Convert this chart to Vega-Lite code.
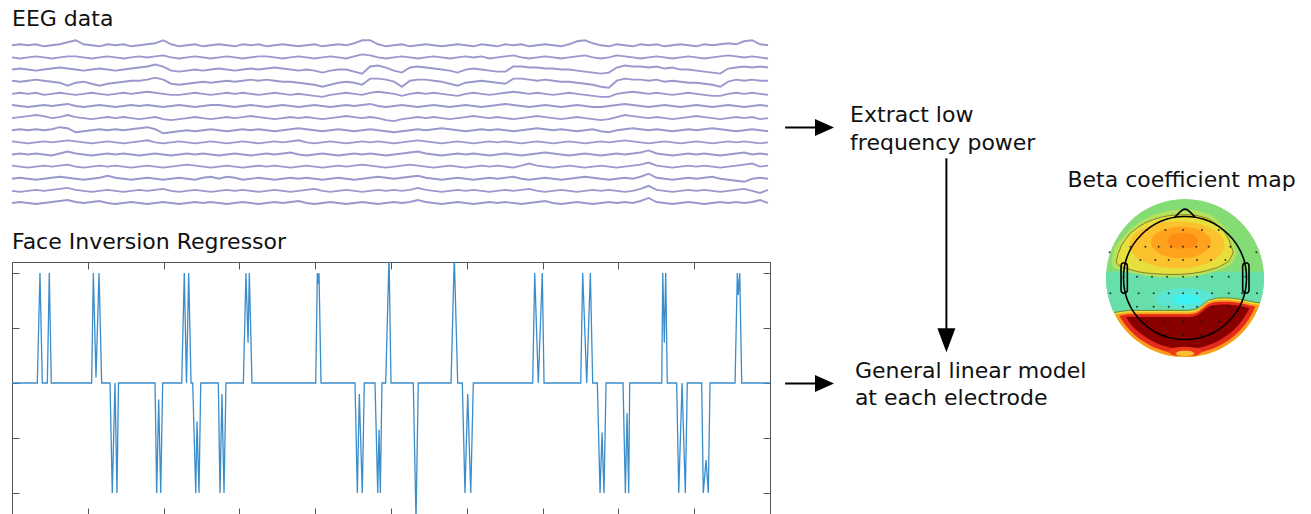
{
"$schema": "https://vega.github.io/schema/vega-lite/v6.json",
"background": "white",
"padding": {"left": 8, "top": 0, "right": 0, "bottom": 0},
"spacing": 0,
"config": {"view": {"stroke": null}, "font": "DejaVu Sans", "text": {"font": "DejaVu Sans"}},
"datasets": {
"eeg": [
{"t":0,"a":156,"b":144,"c":132,"d":121,"e":108,"f":97,"g":84,"h":72,"i":61,"j":48,"k":37,"l":24,"m":12,"n":0},
{"t":1,"a":157,"b":143,"c":133,"d":120,"e":109,"f":96,"g":85,"h":73,"i":60,"j":49,"k":36,"l":25,"m":11,"n":1},
{"t":2,"a":156,"b":144,"c":132,"d":121,"e":108,"f":95,"g":86,"h":72,"i":59,"j":48,"k":35,"l":24,"m":12,"n":0},
{"t":3,"a":157,"b":145,"c":131,"d":122,"e":109,"f":96,"g":87,"h":73,"i":60,"j":49,"k":36,"l":23,"m":13,"n":-1},
{"t":4,"a":155,"b":144,"c":132,"d":121,"e":107,"f":97,"g":86,"h":72,"i":61,"j":48,"k":37,"l":24,"m":12,"n":0},
{"t":5,"a":156,"b":143,"c":133,"d":120,"e":108,"f":96,"g":84,"h":73,"i":60,"j":47,"k":36,"l":25,"m":13,"n":1},
{"t":6,"a":157,"b":144,"c":134,"d":119,"e":109,"f":97,"g":85,"h":75,"i":61,"j":49,"k":37,"l":26,"m":14,"n":2},
{"t":7,"a":159,"b":145,"c":133,"d":116,"e":108,"f":98,"g":87,"h":74,"i":62,"j":51,"k":38,"l":25,"m":15,"n":3},
{"t":8,"a":161,"b":145,"c":132,"d":119,"e":107,"f":96,"g":85,"h":70,"i":61,"j":49,"k":36,"l":24,"m":13,"n":1},
{"t":9,"a":157,"b":144,"c":131,"d":120,"e":108,"f":95,"g":84,"h":71,"i":60,"j":48,"k":35,"l":23,"m":12,"n":0},
{"t":10,"a":156,"b":143,"c":132,"d":118,"e":109,"f":96,"g":83,"h":72,"i":59,"j":47,"k":36,"l":24,"m":11,"n":1},
{"t":11,"a":155,"b":144,"c":133,"d":116,"e":108,"f":97,"g":84,"h":73,"i":60,"j":48,"k":37,"l":25,"m":12,"n":2},
{"t":12,"a":157,"b":145,"c":132,"d":118,"e":107,"f":96,"g":85,"h":72,"i":61,"j":49,"k":36,"l":27,"m":13,"n":0},
{"t":13,"a":156,"b":144,"c":131,"d":119,"e":108,"f":95,"g":84,"h":73,"i":60,"j":48,"k":37,"l":25,"m":12,"n":-1},
{"t":14,"a":157,"b":143,"c":132,"d":120,"e":109,"f":96,"g":85,"h":72,"i":59,"j":49,"k":36,"l":24,"m":11,"n":0},
{"t":15,"a":155,"b":144,"c":133,"d":121,"e":108,"f":97,"g":84,"h":73,"i":60,"j":48,"k":35,"l":23,"m":12,"n":1},
{"t":16,"a":156,"b":145,"c":134,"d":121,"e":109,"f":96,"g":83,"h":74,"i":61,"j":47,"k":36,"l":24,"m":13,"n":0},
{"t":17,"a":157,"b":144,"c":135,"d":122,"e":110,"f":97,"g":84,"h":75,"i":62,"j":48,"k":37,"l":25,"m":12,"n":-1},
{"t":18,"a":158,"b":145,"c":137,"d":124,"e":109,"f":96,"g":85,"h":73,"i":60,"j":49,"k":36,"l":24,"m":13,"n":0},
{"t":19,"a":161,"b":146,"c":135,"d":122,"e":108,"f":95,"g":83,"h":69,"i":59,"j":48,"k":35,"l":23,"m":14,"n":1},
{"t":20,"a":157,"b":144,"c":131,"d":118,"e":107,"f":96,"g":82,"h":70,"i":60,"j":47,"k":36,"l":24,"m":12,"n":0},
{"t":21,"a":155,"b":143,"c":130,"d":117,"e":107,"f":97,"g":83,"h":71,"i":61,"j":48,"k":37,"l":25,"m":11,"n":-1},
{"t":22,"a":156,"b":144,"c":131,"d":118,"e":108,"f":96,"g":84,"h":72,"i":60,"j":49,"k":38,"l":24,"m":12,"n":0},
{"t":23,"a":157,"b":145,"c":132,"d":119,"e":109,"f":95,"g":85,"h":71,"i":59,"j":48,"k":37,"l":23,"m":13,"n":1},
{"t":24,"a":155,"b":144,"c":131,"d":120,"e":108,"f":96,"g":84,"h":72,"i":60,"j":49,"k":36,"l":25,"m":12,"n":0},
{"t":25,"a":156,"b":143,"c":132,"d":119,"e":107,"f":97,"g":83,"h":73,"i":61,"j":48,"k":35,"l":26,"m":11,"n":1},
{"t":26,"a":157,"b":144,"c":133,"d":120,"e":108,"f":97,"g":84,"h":72,"i":60,"j":47,"k":36,"l":24,"m":12,"n":0},
{"t":27,"a":156,"b":145,"c":132,"d":121,"e":109,"f":96,"g":85,"h":71,"i":59,"j":48,"k":37,"l":26,"m":13,"n":-1},
{"t":28,"a":155,"b":144,"c":131,"d":120,"e":108,"f":95,"g":84,"h":72,"i":60,"j":49,"k":36,"l":25,"m":12,"n":0},
{"t":29,"a":157,"b":143,"c":132,"d":121,"e":109,"f":96,"g":85,"h":73,"i":61,"j":48,"k":35,"l":23,"m":13,"n":1},
{"t":30,"a":156,"b":144,"c":133,"d":122,"e":108,"f":97,"g":86,"h":72,"i":60,"j":47,"k":36,"l":24,"m":12,"n":0},
{"t":31,"a":157,"b":145,"c":132,"d":121,"e":107,"f":96,"g":85,"h":73,"i":59,"j":48,"k":37,"l":25,"m":11,"n":-1},
{"t":32,"a":155,"b":145,"c":133,"d":122,"e":108,"f":95,"g":84,"h":72,"i":60,"j":49,"k":36,"l":24,"m":12,"n":0},
{"t":33,"a":156,"b":144,"c":134,"d":121,"e":109,"f":96,"g":83,"h":71,"i":61,"j":48,"k":37,"l":23,"m":13,"n":1},
{"t":34,"a":157,"b":143,"c":133,"d":120,"e":108,"f":97,"g":84,"h":72,"i":60,"j":49,"k":36,"l":24,"m":12,"n":0},
{"t":35,"a":156,"b":144,"c":132,"d":120,"e":107,"f":96,"g":85,"h":73,"i":61,"j":50,"k":35,"l":25,"m":11,"n":1},
{"t":36,"a":155,"b":145,"c":131,"d":119,"e":108,"f":95,"g":84,"h":74,"i":62,"j":48,"k":36,"l":24,"m":12,"n":2},
{"t":37,"a":156,"b":144,"c":132,"d":118,"e":107,"f":96,"g":85,"h":73,"i":60,"j":47,"k":37,"l":25,"m":13,"n":0},
{"t":38,"a":157,"b":143,"c":131,"d":117,"e":106,"f":97,"g":84,"h":72,"i":59,"j":48,"k":36,"l":24,"m":14,"n":-1},
{"t":39,"a":155,"b":144,"c":129,"d":115,"e":105,"f":96,"g":83,"h":71,"i":60,"j":49,"k":35,"l":23,"m":12,"n":0},
{"t":40,"a":156,"b":145,"c":131,"d":117,"e":107,"f":95,"g":84,"h":72,"i":61,"j":48,"k":36,"l":24,"m":11,"n":1},
{"t":41,"a":157,"b":144,"c":132,"d":119,"e":108,"f":96,"g":85,"h":73,"i":60,"j":47,"k":37,"l":25,"m":12,"n":0},
{"t":42,"a":156,"b":143,"c":132,"d":120,"e":109,"f":97,"g":86,"h":72,"i":59,"j":48,"k":36,"l":24,"m":13,"n":-1},
{"t":43,"a":158,"b":145,"c":130,"d":119,"e":108,"f":96,"g":85,"h":71,"i":60,"j":49,"k":37,"l":23,"m":12,"n":0},
{"t":44,"a":161,"b":147,"c":128,"d":117,"e":107,"f":97,"g":84,"h":72,"i":61,"j":48,"k":38,"l":24,"m":11,"n":1},
{"t":45,"a":161,"b":146,"c":135,"d":123,"e":109,"f":98,"g":85,"h":73,"i":60,"j":49,"k":37,"l":25,"m":12,"n":0},
{"t":46,"a":157,"b":144,"c":136,"d":123,"e":110,"f":96,"g":84,"h":72,"i":61,"j":48,"k":36,"l":26,"m":13,"n":-1},
{"t":47,"a":155,"b":143,"c":134,"d":122,"e":109,"f":95,"g":82,"h":71,"i":60,"j":47,"k":35,"l":25,"m":12,"n":0},
{"t":48,"a":156,"b":144,"c":131,"d":120,"e":108,"f":96,"g":81,"h":70,"i":59,"j":48,"k":36,"l":24,"m":13,"n":1},
{"t":49,"a":157,"b":145,"c":129,"d":115,"e":106,"f":97,"g":83,"h":71,"i":60,"j":49,"k":37,"l":25,"m":12,"n":0},
{"t":50,"a":155,"b":144,"c":134,"d":121,"e":108,"f":96,"g":84,"h":72,"i":61,"j":50,"k":38,"l":26,"m":13,"n":1},
{"t":51,"a":156,"b":143,"c":135,"d":122,"e":109,"f":95,"g":85,"h":73,"i":62,"j":51,"k":37,"l":27,"m":15,"n":3},
{"t":52,"a":157,"b":144,"c":134,"d":122,"e":108,"f":96,"g":84,"h":72,"i":61,"j":49,"k":36,"l":25,"m":13,"n":1},
{"t":53,"a":156,"b":145,"c":133,"d":121,"e":109,"f":97,"g":85,"h":73,"i":60,"j":48,"k":35,"l":24,"m":12,"n":0},
{"t":54,"a":155,"b":144,"c":132,"d":120,"e":108,"f":96,"g":84,"h":74,"i":59,"j":47,"k":36,"l":23,"m":11,"n":-1},
{"t":55,"a":156,"b":143,"c":131,"d":118,"e":107,"f":95,"g":83,"h":73,"i":60,"j":48,"k":37,"l":24,"m":12,"n":0},
{"t":56,"a":157,"b":144,"c":129,"d":116,"e":106,"f":96,"g":84,"h":72,"i":61,"j":49,"k":36,"l":25,"m":13,"n":1},
{"t":57,"a":156,"b":145,"c":132,"d":119,"e":108,"f":97,"g":85,"h":71,"i":60,"j":48,"k":35,"l":24,"m":12,"n":0},
{"t":58,"a":155,"b":144,"c":133,"d":120,"e":109,"f":96,"g":86,"h":72,"i":59,"j":49,"k":36,"l":23,"m":13,"n":-1},
{"t":59,"a":157,"b":145,"c":132,"d":121,"e":108,"f":95,"g":85,"h":73,"i":60,"j":48,"k":37,"l":24,"m":12,"n":0},
{"t":60,"a":156,"b":143,"c":131,"d":120,"e":107,"f":96,"g":84,"h":72,"i":61,"j":47,"k":36,"l":25,"m":11,"n":1},
{"t":61,"a":155,"b":144,"c":130,"d":119,"e":108,"f":97,"g":85,"h":73,"i":60,"j":48,"k":37,"l":24,"m":12,"n":0},
{"t":62,"a":157,"b":145,"c":130,"d":118,"e":109,"f":98,"g":84,"h":72,"i":61,"j":49,"k":36,"l":25,"m":13,"n":1},
{"t":63,"a":156,"b":146,"c":135,"d":123,"e":110,"f":97,"g":83,"h":71,"i":60,"j":48,"k":35,"l":26,"m":12,"n":0},
{"t":64,"a":157,"b":144,"c":135,"d":123,"e":109,"f":96,"g":84,"h":72,"i":59,"j":47,"k":37,"l":24,"m":13,"n":-1},
{"t":65,"a":155,"b":143,"c":134,"d":122,"e":108,"f":95,"g":85,"h":73,"i":60,"j":48,"k":39,"l":23,"m":14,"n":0},
{"t":66,"a":156,"b":144,"c":134,"d":121,"e":109,"f":96,"g":86,"h":74,"i":61,"j":49,"k":37,"l":24,"m":12,"n":1},
{"t":67,"a":157,"b":145,"c":133,"d":122,"e":108,"f":97,"g":85,"h":73,"i":60,"j":50,"k":36,"l":25,"m":11,"n":2},
{"t":68,"a":156,"b":144,"c":133,"d":121,"e":107,"f":96,"g":84,"h":72,"i":59,"j":49,"k":35,"l":24,"m":12,"n":0},
{"t":69,"a":155,"b":143,"c":132,"d":120,"e":108,"f":95,"g":83,"h":73,"i":60,"j":48,"k":36,"l":23,"m":13,"n":-1},
{"t":70,"a":157,"b":144,"c":132,"d":120,"e":109,"f":96,"g":84,"h":72,"i":61,"j":47,"k":37,"l":24,"m":12,"n":0},
{"t":71,"a":160,"b":145,"c":131,"d":119,"e":108,"f":97,"g":85,"h":71,"i":60,"j":48,"k":36,"l":25,"m":11,"n":1},
{"t":72,"a":161,"b":146,"c":130,"d":118,"e":107,"f":96,"g":84,"h":72,"i":59,"j":49,"k":35,"l":26,"m":12,"n":0},
{"t":73,"a":158,"b":144,"c":129,"d":117,"e":106,"f":95,"g":83,"h":73,"i":60,"j":48,"k":36,"l":25,"m":13,"n":-1},
{"t":74,"a":156,"b":143,"c":128,"d":115,"e":105,"f":95,"g":82,"h":71,"i":61,"j":47,"k":37,"l":24,"m":12,"n":0},
{"t":75,"a":155,"b":144,"c":129,"d":114,"e":105,"f":96,"g":83,"h":70,"i":60,"j":48,"k":36,"l":23,"m":13,"n":1},
{"t":76,"a":157,"b":146,"c":134,"d":121,"e":108,"f":97,"g":85,"h":72,"i":61,"j":49,"k":35,"l":24,"m":12,"n":0},
{"t":77,"a":156,"b":145,"c":136,"d":123,"e":109,"f":98,"g":87,"h":73,"i":62,"j":48,"k":36,"l":25,"m":11,"n":1},
{"t":78,"a":155,"b":144,"c":135,"d":122,"e":110,"f":97,"g":86,"h":74,"i":61,"j":49,"k":37,"l":24,"m":12,"n":0},
{"t":79,"a":157,"b":143,"c":135,"d":122,"e":109,"f":96,"g":85,"h":73,"i":60,"j":50,"k":38,"l":26,"m":14,"n":2},
{"t":80,"a":156,"b":144,"c":134,"d":121,"e":108,"f":95,"g":84,"h":72,"i":59,"j":52,"k":40,"l":29,"m":17,"n":5},
{"t":81,"a":157,"b":145,"c":135,"d":122,"e":109,"f":96,"g":85,"h":73,"i":60,"j":49,"k":37,"l":25,"m":13,"n":1},
{"t":82,"a":155,"b":144,"c":133,"d":120,"e":108,"f":97,"g":84,"h":72,"i":61,"j":48,"k":36,"l":24,"m":12,"n":0},
{"t":83,"a":156,"b":143,"c":134,"d":121,"e":107,"f":96,"g":83,"h":71,"i":60,"j":47,"k":35,"l":23,"m":11,"n":-1},
{"t":84,"a":157,"b":144,"c":132,"d":120,"e":108,"f":95,"g":84,"h":72,"i":59,"j":48,"k":36,"l":24,"m":12,"n":0},
{"t":85,"a":156,"b":145,"c":132,"d":119,"e":109,"f":96,"g":85,"h":73,"i":60,"j":49,"k":37,"l":25,"m":13,"n":1},
{"t":86,"a":155,"b":144,"c":131,"d":119,"e":108,"f":97,"g":86,"h":72,"i":61,"j":48,"k":36,"l":24,"m":12,"n":0},
{"t":87,"a":157,"b":143,"c":130,"d":118,"e":107,"f":96,"g":85,"h":73,"i":60,"j":49,"k":37,"l":25,"m":13,"n":-1},
{"t":88,"a":156,"b":144,"c":129,"d":117,"e":106,"f":95,"g":84,"h":74,"i":59,"j":48,"k":36,"l":26,"m":12,"n":0},
{"t":89,"a":157,"b":145,"c":128,"d":115,"e":106,"f":96,"g":83,"h":73,"i":60,"j":47,"k":35,"l":24,"m":11,"n":1},
{"t":90,"a":158,"b":146,"c":133,"d":120,"e":108,"f":97,"g":84,"h":72,"i":61,"j":48,"k":36,"l":23,"m":12,"n":0},
{"t":91,"a":157,"b":145,"c":134,"d":122,"e":109,"f":96,"g":85,"h":71,"i":60,"j":49,"k":37,"l":22,"m":13,"n":1},
{"t":92,"a":160,"b":144,"c":135,"d":121,"e":108,"f":95,"g":84,"h":72,"i":61,"j":50,"k":38,"l":21,"m":14,"n":0},
{"t":93,"a":161,"b":145,"c":134,"d":122,"e":109,"f":96,"g":85,"h":73,"i":60,"j":48,"k":39,"l":24,"m":12,"n":1},
{"t":94,"a":157,"b":144,"c":135,"d":121,"e":108,"f":97,"g":83,"h":72,"i":59,"j":49,"k":36,"l":25,"m":10,"n":3},
{"t":95,"a":156,"b":143,"c":134,"d":121,"e":107,"f":96,"g":84,"h":71,"i":60,"j":48,"k":37,"l":24,"m":13,"n":0}
],
"reg": [
{"t":0,"v":0},
{"t":33.4,"v":0},{"t":36.9,"v":2},{"t":40.0,"v":0},{"t":46.6,"v":0},{"t":49.2,"v":2},{"t":51.8,"v":0},
{"t":105.1,"v":0},{"t":107.3,"v":2},{"t":110.8,"v":0.1},{"t":114.8,"v":2},{"t":118.3,"v":0},
{"t":129.3,"v":0},{"t":132.3,"v":-2},{"t":135.9,"v":0},{"t":138.5,"v":-2},{"t":140.5,"v":0},
{"t":188.7,"v":0},{"t":190.9,"v":-2},{"t":193.5,"v":-0.3},{"t":196.2,"v":-2},{"t":198.8,"v":0},
{"t":223.9,"v":0},{"t":227.3,"v":2},{"t":230.2,"v":0},{"t":233.1,"v":2},{"t":236.2,"v":0},
{"t":238.4,"v":0},{"t":242.4,"v":-2},{"t":244.1,"v":-0.7},{"t":246.7,"v":-2},{"t":249.0,"v":0},
{"t":272.2,"v":0},{"t":274.4,"v":-2},{"t":277.0,"v":-0.2},{"t":279.7,"v":-2},{"t":282.3,"v":0},
{"t":305.2,"v":0},{"t":308.7,"v":2},{"t":311.4,"v":0.73},{"t":313.1,"v":2},{"t":316.6,"v":0},
{"t":400.7,"v":0},{"t":402.8,"v":2},{"t":404.0,"v":1.8},{"t":405.0,"v":2},{"t":407.7,"v":0},
{"t":452.5,"v":0},{"t":455.6,"v":-2},{"t":458.2,"v":-0.2},{"t":462.1,"v":-2},{"t":464.8,"v":0},
{"t":478.9,"v":0},{"t":482.5,"v":-2},{"t":484.2,"v":-0.85},{"t":485.9,"v":-2},{"t":488.1,"v":0},
{"t":493.0,"v":0},{"t":497.4,"v":2.3},{"t":500.0,"v":0},
{"t":529.4,"v":0},{"t":533.0,"v":-2.5},{"t":536.0,"v":0},
{"t":579.2,"v":0},{"t":583.5,"v":2.3},{"t":588.0,"v":0},
{"t":594.1,"v":0},{"t":597.6,"v":-2},{"t":601.2,"v":-0.2},{"t":605.2,"v":-2},{"t":608.6,"v":0},
{"t":686.9,"v":0},{"t":689.6,"v":2},{"t":694.3,"v":0},{"t":699.6,"v":2},{"t":701.9,"v":0},
{"t":750.3,"v":0},{"t":752.9,"v":2},{"t":758.2,"v":0},{"t":763.0,"v":2},{"t":766.1,"v":0},
{"t":772.2,"v":0},{"t":775.8,"v":-2},{"t":778.4,"v":-0.9},{"t":781.0,"v":-2},{"t":783.7,"v":0},
{"t":806.1,"v":0},{"t":809.2,"v":-2},{"t":811.4,"v":-0.55},{"t":813.6,"v":-2},{"t":814.9,"v":0},
{"t":857.2,"v":0},{"t":858.5,"v":2},{"t":860.6,"v":0.73},{"t":862.4,"v":2},{"t":864.5,"v":0},
{"t":876.9,"v":0},{"t":879.6,"v":-2},{"t":884.0,"v":0},{"t":888.3,"v":-2},{"t":890.9,"v":0},
{"t":909.9,"v":0},{"t":912.0,"v":-2},{"t":915.6,"v":-1.4},{"t":918.6,"v":-2},{"t":920.9,"v":0},
{"t":953.9,"v":0},{"t":956.9,"v":2},{"t":958.2,"v":1.6},{"t":960.1,"v":2},{"t":962.7,"v":0},
{"t":1000,"v":0}
],
"flowText": [
{"label":"Extract low","fx":0.244,"fy":0.238},
{"label":"frequency power","fx":0.244,"fy":0.292},
{"label":"General linear model","fx":0.259,"fy":0.736},
{"label":"at each electrode","fx":0.259,"fy":0.788}
],
"flowArrow": [
{"fx":0.041,"fx2":0.166,"fy":0.248,"fy2":0.248},
{"fx":0.041,"fx2":0.166,"fy":0.746,"fy2":0.746},
{"fx":0.545,"fx2":0.545,"fy":0.308,"fy2":0.662}
],
"flowHead": [
{"fx":0.164,"fy":0.248,"dir":"right"},
{"fx":0.164,"fy":0.746,"dir":"right"},
{"fx":0.545,"fy":0.662,"dir":"down"}
],
"topo": [
{"r":"band","x":-1,"lo":0,"hi":0},{"r":"band","x":-0.997,"lo":-0.077,"hi":0.077},{"r":"band","x":-0.99,"lo":-0.141,"hi":0.08},{"r":"band","x":-0.97,"lo":-0.243,"hi":0.08},{"r":"band","x":-0.94,"lo":-0.341,"hi":0.08},{"r":"band","x":-0.907,"lo":-0.42,"hi":0.08},{"r":"band","x":0,"lo":-0.42,"hi":0.08},{"r":"band","x":0.907,"lo":-0.42,"hi":0.08},{"r":"band","x":0.94,"lo":-0.341,"hi":0.08},{"r":"band","x":0.97,"lo":-0.243,"hi":0.08},{"r":"band","x":0.99,"lo":-0.141,"hi":0.08},{"r":"band","x":0.997,"lo":-0.077,"hi":0.077},{"r":"band","x":1,"lo":0,"hi":0},
{"r":"halo","x":-0.93,"lo":0.21,"hi":0.21},{"r":"halo","x":-0.9,"lo":0.13,"hi":0.36},{"r":"halo","x":-0.85,"lo":0.11,"hi":0.45},{"r":"halo","x":-0.8,"lo":0.09,"hi":0.5},{"r":"halo","x":-0.7,"lo":0.07,"hi":0.61},{"r":"halo","x":-0.6,"lo":0.05,"hi":0.69},{"r":"halo","x":-0.5,"lo":0.03,"hi":0.75},{"r":"halo","x":-0.4,"lo":0.02,"hi":0.8},{"r":"halo","x":-0.3,"lo":0.01,"hi":0.83},{"r":"halo","x":-0.2,"lo":0.005,"hi":0.85},{"r":"halo","x":-0.1,"lo":0.005,"hi":0.86},{"r":"halo","x":0,"lo":0.01,"hi":0.86},{"r":"halo","x":0.1,"lo":0.02,"hi":0.86},{"r":"halo","x":0.2,"lo":0.035,"hi":0.84},{"r":"halo","x":0.3,"lo":0.06,"hi":0.81},{"r":"halo","x":0.4,"lo":0.09,"hi":0.74},{"r":"halo","x":0.5,"lo":0.13,"hi":0.64},{"r":"halo","x":0.6,"lo":0.2,"hi":0.48},{"r":"halo","x":0.66,"lo":0.32,"hi":0.32},
{"r":"y1","x":-0.87,"lo":0.2,"hi":0.2},{"r":"y1","x":-0.85,"lo":0.17,"hi":0.3},{"r":"y1","x":-0.8,"lo":0.14,"hi":0.42},{"r":"y1","x":-0.7,"lo":0.11,"hi":0.56},{"r":"y1","x":-0.6,"lo":0.08,"hi":0.64},{"r":"y1","x":-0.5,"lo":0.065,"hi":0.7},{"r":"y1","x":-0.4,"lo":0.055,"hi":0.74},{"r":"y1","x":-0.3,"lo":0.05,"hi":0.77},{"r":"y1","x":-0.2,"lo":0.045,"hi":0.79},{"r":"y1","x":-0.1,"lo":0.045,"hi":0.8},{"r":"y1","x":0,"lo":0.05,"hi":0.8},{"r":"y1","x":0.1,"lo":0.06,"hi":0.8},{"r":"y1","x":0.2,"lo":0.075,"hi":0.78},{"r":"y1","x":0.3,"lo":0.1,"hi":0.75},{"r":"y1","x":0.4,"lo":0.13,"hi":0.68},{"r":"y1","x":0.5,"lo":0.18,"hi":0.58},{"r":"y1","x":0.55,"lo":0.21,"hi":0.5},{"r":"y1","x":0.6,"lo":0.3,"hi":0.36},{"r":"y1","x":0.61,"lo":0.33,"hi":0.33},
{"r":"y2","x":-0.7,"lo":0.42,"hi":0.42},{"r":"y2","x":-0.682,"lo":0.347,"hi":0.493},{"r":"y2","x":-0.64,"lo":0.289,"hi":0.551},{"r":"y2","x":-0.55,"lo":0.222,"hi":0.618},{"r":"y2","x":-0.4,"lo":0.16,"hi":0.68},{"r":"y2","x":-0.25,"lo":0.13,"hi":0.71},{"r":"y2","x":-0.1,"lo":0.12,"hi":0.72},{"r":"y2","x":0.05,"lo":0.13,"hi":0.71},{"r":"y2","x":0.2,"lo":0.16,"hi":0.68},{"r":"y2","x":0.35,"lo":0.222,"hi":0.618},{"r":"y2","x":0.44,"lo":0.289,"hi":0.551},{"r":"y2","x":0.482,"lo":0.347,"hi":0.493},{"r":"y2","x":0.5,"lo":0.42,"hi":0.42},
{"r":"y3","x":-0.43,"lo":0.45,"hi":0.45},{"r":"y3","x":-0.419,"lo":0.401,"hi":0.499},{"r":"y3","x":-0.392,"lo":0.363,"hi":0.537},{"r":"y3","x":-0.335,"lo":0.318,"hi":0.582},{"r":"y3","x":-0.24,"lo":0.277,"hi":0.623},{"r":"y3","x":-0.145,"lo":0.256,"hi":0.644},{"r":"y3","x":-0.05,"lo":0.25,"hi":0.65},{"r":"y3","x":0.045,"lo":0.256,"hi":0.644},{"r":"y3","x":0.14,"lo":0.277,"hi":0.623},{"r":"y3","x":0.235,"lo":0.318,"hi":0.582},{"r":"y3","x":0.292,"lo":0.363,"hi":0.537},{"r":"y3","x":0.319,"lo":0.401,"hi":0.499},{"r":"y3","x":0.33,"lo":0.45,"hi":0.45},
{"r":"y4","x":-0.23,"lo":0.47,"hi":0.47},{"r":"y4","x":-0.18,"lo":0.404,"hi":0.536},{"r":"y4","x":-0.13,"lo":0.383,"hi":0.557},{"r":"y4","x":-0.03,"lo":0.37,"hi":0.57},{"r":"y4","x":0.07,"lo":0.383,"hi":0.557},{"r":"y4","x":0.12,"lo":0.404,"hi":0.536},{"r":"y4","x":0.17,"lo":0.47,"hi":0.47},
{"r":"c1","x":-0.38,"lo":-0.26,"hi":-0.26},{"r":"c1","x":-0.342,"lo":-0.317,"hi":-0.203},{"r":"c1","x":-0.285,"lo":-0.346,"hi":-0.174},{"r":"c1","x":-0.19,"lo":-0.373,"hi":-0.147},{"r":"c1","x":-0.095,"lo":-0.386,"hi":-0.134},{"r":"c1","x":0,"lo":-0.39,"hi":-0.13},{"r":"c1","x":0.095,"lo":-0.386,"hi":-0.134},{"r":"c1","x":0.19,"lo":-0.373,"hi":-0.147},{"r":"c1","x":0.285,"lo":-0.346,"hi":-0.174},{"r":"c1","x":0.342,"lo":-0.317,"hi":-0.203},{"r":"c1","x":0.38,"lo":-0.26,"hi":-0.26},
{"r":"c2","x":-0.16,"lo":-0.27,"hi":-0.27},{"r":"c2","x":-0.142,"lo":-0.298,"hi":-0.242},{"r":"c2","x":-0.115,"lo":-0.313,"hi":-0.227},{"r":"c2","x":-0.07,"lo":-0.326,"hi":-0.214},{"r":"c2","x":-0.025,"lo":-0.333,"hi":-0.207},{"r":"c2","x":0.02,"lo":-0.335,"hi":-0.205},{"r":"c2","x":0.065,"lo":-0.333,"hi":-0.207},{"r":"c2","x":0.11,"lo":-0.326,"hi":-0.214},{"r":"c2","x":0.155,"lo":-0.313,"hi":-0.227},{"r":"c2","x":0.182,"lo":-0.298,"hi":-0.242},{"r":"c2","x":0.2,"lo":-0.27,"hi":-0.27},
{"r":"r1","x":-0.9,"lo":-0.436,"hi":-0.436},{"r":"r1","x":-0.85,"lo":-0.527,"hi":-0.43},{"r":"r1","x":-0.8,"lo":-0.6,"hi":-0.42},{"r":"r1","x":-0.7,"lo":-0.714,"hi":-0.41},{"r":"r1","x":-0.5,"lo":-0.866,"hi":-0.41},{"r":"r1","x":-0.3,"lo":-0.954,"hi":-0.41},{"r":"r1","x":-0.1,"lo":-0.995,"hi":-0.41},{"r":"r1","x":0.05,"lo":-0.999,"hi":-0.41},{"r":"r1","x":0.15,"lo":-0.989,"hi":-0.39},{"r":"r1","x":0.22,"lo":-0.976,"hi":-0.34},{"r":"r1","x":0.3,"lo":-0.954,"hi":-0.28},{"r":"r1","x":0.4,"lo":-0.917,"hi":-0.255},{"r":"r1","x":0.5,"lo":-0.866,"hi":-0.25},{"r":"r1","x":0.6,"lo":-0.8,"hi":-0.255},{"r":"r1","x":0.7,"lo":-0.714,"hi":-0.27},{"r":"r1","x":0.8,"lo":-0.6,"hi":-0.29},{"r":"r1","x":0.9,"lo":-0.436,"hi":-0.31},{"r":"r1","x":0.95,"lo":-0.312,"hi":-0.312},
{"r":"r2","x":-0.885,"lo":-0.46,"hi":-0.46},{"r":"r2","x":-0.85,"lo":-0.527,"hi":-0.455},{"r":"r2","x":-0.8,"lo":-0.6,"hi":-0.445},{"r":"r2","x":-0.7,"lo":-0.714,"hi":-0.435},{"r":"r2","x":-0.5,"lo":-0.866,"hi":-0.435},{"r":"r2","x":-0.3,"lo":-0.954,"hi":-0.435},{"r":"r2","x":-0.1,"lo":-0.995,"hi":-0.435},{"r":"r2","x":0.05,"lo":-0.999,"hi":-0.435},{"r":"r2","x":0.15,"lo":-0.989,"hi":-0.415},{"r":"r2","x":0.22,"lo":-0.976,"hi":-0.365},{"r":"r2","x":0.3,"lo":-0.954,"hi":-0.305},{"r":"r2","x":0.4,"lo":-0.917,"hi":-0.28},{"r":"r2","x":0.5,"lo":-0.866,"hi":-0.275},{"r":"r2","x":0.6,"lo":-0.8,"hi":-0.28},{"r":"r2","x":0.7,"lo":-0.714,"hi":-0.295},{"r":"r2","x":0.8,"lo":-0.6,"hi":-0.315},{"r":"r2","x":0.9,"lo":-0.436,"hi":-0.335},{"r":"r2","x":0.941,"lo":-0.338,"hi":-0.338},
{"r":"r3","x":-0.833,"lo":-0.477,"hi":-0.477},{"r":"r3","x":-0.8,"lo":-0.531,"hi":-0.47},{"r":"r3","x":-0.7,"lo":-0.657,"hi":-0.46},{"r":"r3","x":-0.5,"lo":-0.82,"hi":-0.46},{"r":"r3","x":-0.3,"lo":-0.912,"hi":-0.46},{"r":"r3","x":-0.1,"lo":-0.955,"hi":-0.46},{"r":"r3","x":0.05,"lo":-0.959,"hi":-0.46},{"r":"r3","x":0.15,"lo":-0.948,"hi":-0.44},{"r":"r3","x":0.22,"lo":-0.935,"hi":-0.39},{"r":"r3","x":0.3,"lo":-0.912,"hi":-0.33},{"r":"r3","x":0.4,"lo":-0.873,"hi":-0.305},{"r":"r3","x":0.5,"lo":-0.82,"hi":-0.3},{"r":"r3","x":0.6,"lo":-0.749,"hi":-0.305},{"r":"r3","x":0.7,"lo":-0.657,"hi":-0.32},{"r":"r3","x":0.8,"lo":-0.531,"hi":-0.34},{"r":"r3","x":0.85,"lo":-0.446,"hi":-0.35},{"r":"r3","x":0.89,"lo":-0.36,"hi":-0.36},
{"r":"r4","x":-0.745,"lo":-0.495,"hi":-0.495},{"r":"r4","x":-0.7,"lo":-0.566,"hi":-0.495},{"r":"r4","x":-0.6,"lo":-0.671,"hi":-0.495},{"r":"r4","x":-0.5,"lo":-0.748,"hi":-0.495},{"r":"r4","x":-0.3,"lo":-0.849,"hi":-0.495},{"r":"r4","x":-0.1,"lo":-0.894,"hi":-0.495},{"r":"r4","x":0.05,"lo":-0.899,"hi":-0.495},{"r":"r4","x":0.15,"lo":-0.887,"hi":-0.475},{"r":"r4","x":0.22,"lo":-0.873,"hi":-0.425},{"r":"r4","x":0.3,"lo":-0.849,"hi":-0.365},{"r":"r4","x":0.4,"lo":-0.806,"hi":-0.34},{"r":"r4","x":0.5,"lo":-0.748,"hi":-0.335},{"r":"r4","x":0.6,"lo":-0.671,"hi":-0.34},{"r":"r4","x":0.7,"lo":-0.566,"hi":-0.355},{"r":"r4","x":0.8,"lo":-0.412,"hi":-0.375},{"r":"r4","x":0.816,"lo":-0.38,"hi":-0.38},
{"r":"s1","x":-0.22,"lo":-0.93,"hi":-0.93},{"r":"s1","x":-0.165,"lo":-0.97,"hi":-0.89},{"r":"s1","x":-0.11,"lo":-0.982,"hi":-0.878},{"r":"s1","x":0,"lo":-0.99,"hi":-0.87},{"r":"s1","x":0.11,"lo":-0.982,"hi":-0.878},{"r":"s1","x":0.165,"lo":-0.97,"hi":-0.89},{"r":"s1","x":0.22,"lo":-0.93,"hi":-0.93},
{"r":"s2","x":-0.12,"lo":-0.955,"hi":-0.955},{"r":"s2","x":-0.09,"lo":-0.978,"hi":-0.932},{"r":"s2","x":-0.06,"lo":-0.985,"hi":-0.925},{"r":"s2","x":0,"lo":-0.99,"hi":-0.92},{"r":"s2","x":0.06,"lo":-0.985,"hi":-0.925},{"r":"s2","x":0.09,"lo":-0.978,"hi":-0.932},{"r":"s2","x":0.12,"lo":-0.955,"hi":-0.955}
],
"contour": [
{"part":"front","o":1,"x":-0.87,"y":0.2},{"part":"front","o":2,"x":-0.85,"y":0.3},{"part":"front","o":3,"x":-0.8,"y":0.42},{"part":"front","o":4,"x":-0.7,"y":0.56},{"part":"front","o":5,"x":-0.6,"y":0.64},{"part":"front","o":6,"x":-0.5,"y":0.7},{"part":"front","o":7,"x":-0.4,"y":0.74},{"part":"front","o":8,"x":-0.3,"y":0.77},{"part":"front","o":9,"x":-0.2,"y":0.79},{"part":"front","o":10,"x":-0.1,"y":0.8},{"part":"front","o":11,"x":0,"y":0.8},{"part":"front","o":12,"x":0.1,"y":0.8},{"part":"front","o":13,"x":0.2,"y":0.78},{"part":"front","o":14,"x":0.3,"y":0.75},{"part":"front","o":15,"x":0.4,"y":0.68},{"part":"front","o":16,"x":0.5,"y":0.58},{"part":"front","o":17,"x":0.55,"y":0.5},{"part":"front","o":18,"x":0.6,"y":0.36},{"part":"front","o":19,"x":0.61,"y":0.33},{"part":"front","o":20,"x":0.6,"y":0.3},{"part":"front","o":21,"x":0.55,"y":0.21},{"part":"front","o":22,"x":0.5,"y":0.18},{"part":"front","o":23,"x":0.4,"y":0.13},{"part":"front","o":24,"x":0.3,"y":0.1},{"part":"front","o":25,"x":0.2,"y":0.075},{"part":"front","o":26,"x":0.1,"y":0.06},{"part":"front","o":27,"x":0,"y":0.05},{"part":"front","o":28,"x":-0.1,"y":0.045},{"part":"front","o":29,"x":-0.2,"y":0.045},{"part":"front","o":30,"x":-0.3,"y":0.05},{"part":"front","o":31,"x":-0.4,"y":0.055},{"part":"front","o":32,"x":-0.5,"y":0.065},{"part":"front","o":33,"x":-0.6,"y":0.08},{"part":"front","o":34,"x":-0.7,"y":0.11},{"part":"front","o":35,"x":-0.8,"y":0.14},{"part":"front","o":36,"x":-0.85,"y":0.17},{"part":"front","o":37,"x":-0.87,"y":0.2},
{"part":"back","o":1,"x":-0.9,"y":-0.436},{"part":"back","o":2,"x":-0.85,"y":-0.43},{"part":"back","o":3,"x":-0.8,"y":-0.42},{"part":"back","o":4,"x":-0.7,"y":-0.41},{"part":"back","o":5,"x":-0.5,"y":-0.41},{"part":"back","o":6,"x":-0.3,"y":-0.41},{"part":"back","o":7,"x":-0.1,"y":-0.41},{"part":"back","o":8,"x":0.05,"y":-0.41},{"part":"back","o":9,"x":0.15,"y":-0.39},{"part":"back","o":10,"x":0.22,"y":-0.34},{"part":"back","o":11,"x":0.3,"y":-0.28},{"part":"back","o":12,"x":0.4,"y":-0.255},{"part":"back","o":13,"x":0.5,"y":-0.25},{"part":"back","o":14,"x":0.6,"y":-0.255},{"part":"back","o":15,"x":0.7,"y":-0.27},{"part":"back","o":16,"x":0.8,"y":-0.29},{"part":"back","o":17,"x":0.9,"y":-0.31},{"part":"back","o":18,"x":0.95,"y":-0.312}
],
"head": [
{"part":"nose","o":1,"x":-0.13,"y":0.768},{"part":"nose","o":2,"x":-0.07,"y":0.83},{"part":"nose","o":3,"x":-0.025,"y":0.866},{"part":"nose","o":4,"x":0,"y":0.872},{"part":"nose","o":5,"x":0.025,"y":0.866},{"part":"nose","o":6,"x":0.07,"y":0.83},{"part":"nose","o":7,"x":0.13,"y":0.768},
{"part":"earL","o":1,"x":-0.755,"y":0.19},{"part":"earL","o":2,"x":-0.79,"y":0.19},{"part":"earL","o":3,"x":-0.805,"y":0.175},{"part":"earL","o":4,"x":-0.81,"y":0.15},{"part":"earL","o":5,"x":-0.81,"y":-0.15},{"part":"earL","o":6,"x":-0.805,"y":-0.175},{"part":"earL","o":7,"x":-0.79,"y":-0.19},{"part":"earL","o":8,"x":-0.755,"y":-0.19},{"part":"earL","o":9,"x":-0.735,"y":-0.175},{"part":"earL","o":10,"x":-0.73,"y":-0.15},{"part":"earL","o":11,"x":-0.73,"y":0.15},{"part":"earL","o":12,"x":-0.735,"y":0.175},{"part":"earL","o":13,"x":-0.755,"y":0.19},
{"part":"earR","o":1,"x":0.755,"y":0.19},{"part":"earR","o":2,"x":0.79,"y":0.19},{"part":"earR","o":3,"x":0.805,"y":0.175},{"part":"earR","o":4,"x":0.81,"y":0.15},{"part":"earR","o":5,"x":0.81,"y":-0.15},{"part":"earR","o":6,"x":0.805,"y":-0.175},{"part":"earR","o":7,"x":0.79,"y":-0.19},{"part":"earR","o":8,"x":0.755,"y":-0.19},{"part":"earR","o":9,"x":0.735,"y":-0.175},{"part":"earR","o":10,"x":0.73,"y":-0.15},{"part":"earR","o":11,"x":0.73,"y":0.15},{"part":"earR","o":12,"x":0.735,"y":0.175},{"part":"earR","o":13,"x":0.755,"y":0.19}
],
"dots": [
{"x":-0.481,"y":0.608},{"x":-0.249,"y":0.608},{"x":-0.025,"y":0.608},{"x":0.215,"y":0.608},{"x":0.426,"y":0.608},
{"x":-0.692,"y":0.397},{"x":-0.502,"y":0.397},{"x":-0.333,"y":0.397},{"x":-0.177,"y":0.397},{"x":-0.025,"y":0.397},{"x":0.143,"y":0.397},{"x":0.3,"y":0.397},{"x":0.574,"y":0.397},
{"x":-0.954,"y":0.325},{"x":0.903,"y":0.325},
{"x":-0.565,"y":0.228},{"x":-0.376,"y":0.228},{"x":-0.207,"y":0.228},{"x":-0.025,"y":0.228},{"x":0.152,"y":0.228},{"x":0.329,"y":0.228},{"x":0.511,"y":0.228},
{"x":-0.776,"y":0.017},{"x":-0.608,"y":0.017},{"x":-0.418,"y":0.017},{"x":-0.228,"y":0.017},{"x":-0.025,"y":0.017},{"x":0.152,"y":0.017},{"x":0.342,"y":0.017},{"x":0.553,"y":0.017},{"x":0.764,"y":0.017},
{"x":-0.945,"y":-0.194},{"x":-0.776,"y":-0.194},{"x":-0.587,"y":-0.194},{"x":-0.397,"y":-0.194},{"x":-0.207,"y":-0.194},{"x":-0.025,"y":-0.194},{"x":0.152,"y":-0.194},{"x":0.342,"y":-0.194},{"x":0.553,"y":-0.194},{"x":0.722,"y":-0.194},{"x":0.911,"y":-0.194},
{"x":-0.608,"y":-0.363},{"x":-0.397,"y":-0.363},{"x":-0.207,"y":-0.363},{"x":-0.025,"y":-0.363},{"x":0.152,"y":-0.363},{"x":0.342,"y":-0.363},{"x":0.553,"y":-0.363},
{"x":-0.481,"y":-0.553},{"x":-0.27,"y":-0.553},{"x":-0.025,"y":-0.553},{"x":0.215,"y":-0.553},{"x":0.426,"y":-0.553},
{"x":-0.249,"y":-0.722},{"x":-0.025,"y":-0.722},{"x":0.194,"y":-0.722}
]
},
"hconcat": [
{
"vconcat": [
{
"width": 756, "height": 210,
"layer": [
{"data": {"name": "eeg"},
 "transform": [{"fold": ["a","b","c","d","e","f","g","h","i","j","k","l","m","n"], "as": ["ch","v"]}],
 "mark": {"type": "line", "stroke": "#8080c0", "strokeWidth": 1.9, "opacity": 0.8, "interpolate": "linear"},
 "encoding": {
  "x": {"field": "t", "type": "quantitative", "scale": {"domain": [0,95], "nice": false, "zero": false}, "axis": null},
  "y": {"field": "v", "type": "quantitative", "scale": {"domain": [-6.9,200.8], "nice": false, "zero": false}, "axis": null},
  "detail": {"field": "ch"}}},
{"data": {"values": [{}]},
 "mark": {"type": "text", "text": "EEG data", "fontSize": 22, "align": "left", "baseline": "alphabetic", "color": "#111"},
 "encoding": {"x": {"datum": 0, "type": "quantitative", "axis": null}, "y": {"datum": 175.1, "type": "quantitative", "axis": null}}}
]
},
{
"width": 758, "height": 253,
"layer": [
{"data": {"name": "reg"},
 "mark": {"type": "line", "stroke": "#3a8ccb", "strokeWidth": 1.3, "clip": true},
 "encoding": {
  "x": {"field": "t", "type": "quantitative", "scale": {"domain": [0,1000], "nice": false, "zero": false},
        "axis": {"orient": "bottom", "values": [0,100,200,300,400,500,600,700,800,900,1000], "labels": false, "grid": false, "title": null, "tickSize": -7, "tickColor": "#555", "domainColor": "#555"}},
  "y": {"field": "v", "type": "quantitative", "scale": {"domain": [-2.4,2.2], "nice": false, "zero": false},
        "axis": {"orient": "left", "values": [-2,-1,0,1,2], "labels": false, "grid": false, "title": null, "tickSize": -7, "tickColor": "#555", "domainColor": "#555"}}}},
{"data": {"name": "reg"},
 "mark": {"type": "line", "opacity": 0},
 "encoding": {
  "x": {"field": "t", "type": "quantitative",
        "axis": {"orient": "top", "values": [0,100,200,300,400,500,600,700,800,900,1000], "labels": false, "grid": false, "title": null, "tickSize": -7, "tickColor": "#555", "domainColor": "#555"}},
  "y": {"field": "v", "type": "quantitative",
        "axis": {"orient": "right", "values": [-2,-1,0,1,2], "labels": false, "grid": false, "title": null, "tickSize": -7, "tickColor": "#555", "domainColor": "#555"}}}},
{"data": {"values": [{}]},
 "mark": {"type": "text", "text": "Face Inversion Regressor", "fontSize": 22, "align": "left", "baseline": "alphabetic", "color": "#111"},
 "encoding": {"x": {"datum": 0, "type": "quantitative", "axis": null}, "y": {"datum": 2.436, "type": "quantitative", "axis": null}}}
],
"resolve": {"axis": {"x": "independent", "y": "independent"}}
}
],
"spacing": 52,
"bounds": "flush"
},
{
"width": 541, "height": 514,
"layer": [
{
"layer": [
{"data": {"name": "flowText"},
 "mark": {"type": "text", "align": "left", "baseline": "alphabetic", "fontSize": 22, "color": "#111"},
 "encoding": {
  "x": {"field": "fx", "type": "quantitative", "scale": {"domain": [0,1.690625], "nice": false, "zero": false}, "axis": null},
  "y": {"field": "fy", "type": "quantitative", "scale": {"domain": [0,1], "nice": false, "zero": false, "reverse": true}, "axis": null},
  "text": {"field": "label"}}},
{"data": {"name": "flowArrow"},
 "mark": {"type": "rule", "strokeWidth": 2, "color": "#000"},
 "encoding": {
  "x": {"field": "fx", "type": "quantitative", "axis": null}, "x2": {"field": "fx2"},
  "y": {"field": "fy", "type": "quantitative", "axis": null}, "y2": {"field": "fy2"}}},
{"data": {"name": "flowHead"},
 "transform": [{"filter": "datum.dir == 'right'"}],
 "mark": {"type": "point", "filled": true, "color": "#000", "opacity": 1, "size": 361, "shape": "M-1,-0.9L1,0L-1,0.9Z"},
 "encoding": {"x": {"field": "fx", "type": "quantitative", "axis": null}, "y": {"field": "fy", "type": "quantitative", "axis": null}}},
{"data": {"name": "flowHead"},
 "transform": [{"filter": "datum.dir == 'down'"}],
 "mark": {"type": "point", "filled": true, "color": "#000", "opacity": 1, "size": 576, "shape": "M-0.75,-1L0.75,-1L0,1Z"},
 "encoding": {"x": {"field": "fx", "type": "quantitative", "axis": null}, "y": {"field": "fy", "type": "quantitative", "axis": null}}}
]
},
{
"layer": [
{"data": {"values": [{}]},
 "mark": {"type": "point", "shape": "circle", "filled": true, "color": "#84dc74", "opacity": 1, "size": 24964},
 "encoding": {
  "x": {"datum": 0, "type": "quantitative", "scale": {"domain": [-5.228,1.62], "nice": false, "zero": false}, "axis": null},
  "y": {"datum": 0, "type": "quantitative", "scale": {"domain": [-2.987,3.519], "nice": false, "zero": false}, "axis": null}}},
{"data": {"name": "topo"}, "transform": [{"filter": "datum.r == 'band'"}],
 "mark": {"type": "area", "interpolate": "monotone", "opacity": 1},
 "encoding": {"x": {"field": "x", "type": "quantitative", "axis": null}, "y": {"field": "lo", "type": "quantitative", "axis": null}, "y2": {"field": "hi"},
  "color": {"field": "r", "type": "nominal", "legend": null,
   "scale": {"domain": ["band","halo","y1","y2","y3","y4","c1","c2","r1","r2","r3","r4","s1","s2"],
             "range": ["#66dfaa","#b6e15a","#e7e03c","#fcc22e","#ffa21e","#ff8c14","#5ae6d2","#3ef2f2","#e2e23a","#ff9a1e","#e42a1a","#880000","#ee3a1a","#ffc030"]}}}},
{"data": {"name": "topo"}, "transform": [{"filter": "datum.r == 'halo'"}],
 "mark": {"type": "area", "interpolate": "monotone", "opacity": 1},
 "encoding": {"x": {"field": "x", "type": "quantitative", "axis": null}, "y": {"field": "lo", "type": "quantitative", "axis": null}, "y2": {"field": "hi"}, "color": {"field": "r", "type": "nominal", "legend": null}}},
{"data": {"name": "topo"}, "transform": [{"filter": "datum.r == 'y1'"}],
 "mark": {"type": "area", "interpolate": "monotone", "opacity": 1},
 "encoding": {"x": {"field": "x", "type": "quantitative", "axis": null}, "y": {"field": "lo", "type": "quantitative", "axis": null}, "y2": {"field": "hi"}, "color": {"field": "r", "type": "nominal", "legend": null}}},
{"data": {"name": "topo"}, "transform": [{"filter": "datum.r == 'y2'"}],
 "mark": {"type": "area", "interpolate": "monotone", "opacity": 1},
 "encoding": {"x": {"field": "x", "type": "quantitative", "axis": null}, "y": {"field": "lo", "type": "quantitative", "axis": null}, "y2": {"field": "hi"}, "color": {"field": "r", "type": "nominal", "legend": null}}},
{"data": {"name": "topo"}, "transform": [{"filter": "datum.r == 'y3'"}],
 "mark": {"type": "area", "interpolate": "monotone", "opacity": 1},
 "encoding": {"x": {"field": "x", "type": "quantitative", "axis": null}, "y": {"field": "lo", "type": "quantitative", "axis": null}, "y2": {"field": "hi"}, "color": {"field": "r", "type": "nominal", "legend": null}}},
{"data": {"name": "topo"}, "transform": [{"filter": "datum.r == 'y4'"}],
 "mark": {"type": "area", "interpolate": "monotone", "opacity": 1},
 "encoding": {"x": {"field": "x", "type": "quantitative", "axis": null}, "y": {"field": "lo", "type": "quantitative", "axis": null}, "y2": {"field": "hi"}, "color": {"field": "r", "type": "nominal", "legend": null}}},
{"data": {"name": "topo"}, "transform": [{"filter": "datum.r == 'c1'"}],
 "mark": {"type": "area", "interpolate": "monotone", "opacity": 1},
 "encoding": {"x": {"field": "x", "type": "quantitative", "axis": null}, "y": {"field": "lo", "type": "quantitative", "axis": null}, "y2": {"field": "hi"}, "color": {"field": "r", "type": "nominal", "legend": null}}},
{"data": {"name": "topo"}, "transform": [{"filter": "datum.r == 'c2'"}],
 "mark": {"type": "area", "interpolate": "monotone", "opacity": 1},
 "encoding": {"x": {"field": "x", "type": "quantitative", "axis": null}, "y": {"field": "lo", "type": "quantitative", "axis": null}, "y2": {"field": "hi"}, "color": {"field": "r", "type": "nominal", "legend": null}}},
{"data": {"name": "topo"}, "transform": [{"filter": "datum.r == 'r1'"}],
 "mark": {"type": "area", "interpolate": "monotone", "opacity": 1},
 "encoding": {"x": {"field": "x", "type": "quantitative", "axis": null}, "y": {"field": "lo", "type": "quantitative", "axis": null}, "y2": {"field": "hi"}, "color": {"field": "r", "type": "nominal", "legend": null}}},
{"data": {"name": "topo"}, "transform": [{"filter": "datum.r == 'r2'"}],
 "mark": {"type": "area", "interpolate": "monotone", "opacity": 1},
 "encoding": {"x": {"field": "x", "type": "quantitative", "axis": null}, "y": {"field": "lo", "type": "quantitative", "axis": null}, "y2": {"field": "hi"}, "color": {"field": "r", "type": "nominal", "legend": null}}},
{"data": {"name": "topo"}, "transform": [{"filter": "datum.r == 'r3'"}],
 "mark": {"type": "area", "interpolate": "monotone", "opacity": 1},
 "encoding": {"x": {"field": "x", "type": "quantitative", "axis": null}, "y": {"field": "lo", "type": "quantitative", "axis": null}, "y2": {"field": "hi"}, "color": {"field": "r", "type": "nominal", "legend": null}}},
{"data": {"name": "topo"}, "transform": [{"filter": "datum.r == 'r4'"}],
 "mark": {"type": "area", "interpolate": "monotone", "opacity": 1},
 "encoding": {"x": {"field": "x", "type": "quantitative", "axis": null}, "y": {"field": "lo", "type": "quantitative", "axis": null}, "y2": {"field": "hi"}, "color": {"field": "r", "type": "nominal", "legend": null}}},
{"data": {"name": "topo"}, "transform": [{"filter": "datum.r == 's1'"}],
 "mark": {"type": "area", "interpolate": "monotone", "opacity": 1},
 "encoding": {"x": {"field": "x", "type": "quantitative", "axis": null}, "y": {"field": "lo", "type": "quantitative", "axis": null}, "y2": {"field": "hi"}, "color": {"field": "r", "type": "nominal", "legend": null}}},
{"data": {"name": "topo"}, "transform": [{"filter": "datum.r == 's2'"}],
 "mark": {"type": "area", "interpolate": "monotone", "opacity": 1},
 "encoding": {"x": {"field": "x", "type": "quantitative", "axis": null}, "y": {"field": "lo", "type": "quantitative", "axis": null}, "y2": {"field": "hi"}, "color": {"field": "r", "type": "nominal", "legend": null}}},
{"data": {"name": "contour"},
 "mark": {"type": "line", "color": "#6a6a2c", "strokeWidth": 0.8, "interpolate": "linear"},
 "encoding": {"x": {"field": "x", "type": "quantitative", "axis": null}, "y": {"field": "y", "type": "quantitative", "axis": null}, "order": {"field": "o", "type": "quantitative"}, "detail": {"field": "part"}}},
{"data": {"name": "dots"},
 "mark": {"type": "point", "shape": "circle", "filled": true, "color": "#111", "opacity": 0.8, "size": 4},
 "encoding": {"x": {"field": "x", "type": "quantitative", "axis": null}, "y": {"field": "y", "type": "quantitative", "axis": null}}},
{"data": {"values": [{}]},
 "mark": {"type": "point", "shape": "circle", "filled": false, "color": "#000", "strokeWidth": 1.6, "opacity": 1, "size": 15129},
 "encoding": {"x": {"datum": 0, "type": "quantitative", "axis": null}, "y": {"datum": 0, "type": "quantitative", "axis": null}}},
{"data": {"name": "head"},
 "mark": {"type": "line", "color": "#000", "strokeWidth": 1.6, "interpolate": "linear"},
 "encoding": {"x": {"field": "x", "type": "quantitative", "axis": null}, "y": {"field": "y", "type": "quantitative", "axis": null}, "order": {"field": "o", "type": "quantitative"}, "detail": {"field": "part"}}},
{"data": {"values": [{}]},
 "mark": {"type": "text", "text": "Beta coefficient map", "fontSize": 22, "align": "center", "baseline": "alphabetic", "color": "#111"},
 "encoding": {"x": {"datum": -0.044, "type": "quantitative", "axis": null}, "y": {"datum": 1.152, "type": "quantitative", "axis": null}}}
]
}
],
"resolve": {"scale": {"x": "independent", "y": "independent"}}
}
]
}
